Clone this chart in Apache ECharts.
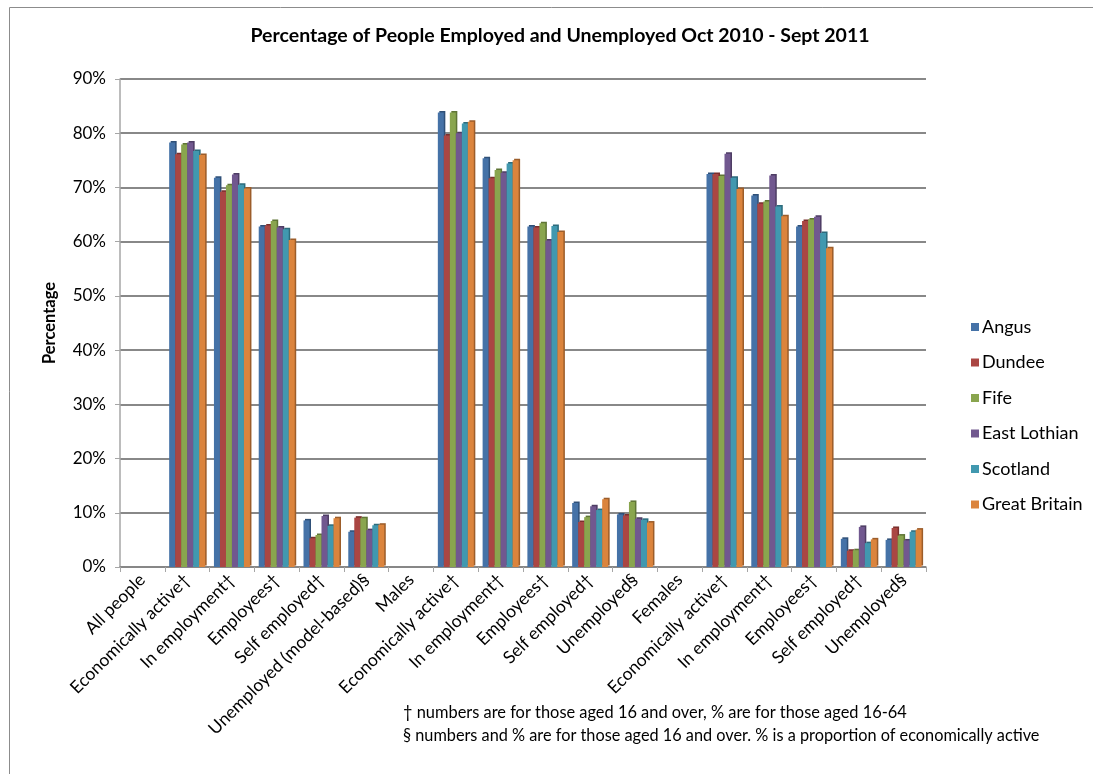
<!DOCTYPE html>
<html>
<head>
<meta charset="utf-8">
<script src="https://cdn.jsdelivr.net/npm/echarts@6/dist/echarts.min.js"></script>
<style>
html,body{margin:0;padding:0;background:#fff;}
#chart{width:1093px;height:774px;}
</style>
</head>
<body>
<div id="chart"></div>
<script>
const categories = ["All people","Economically active†","In employment†","Employees†","Self employed†","Unemployed (model-based)§","Males","Economically active†","In employment†","Employees†","Self employed†","Unemployed§","Females","Economically active†","In employment†","Employees†","Self employed†","Unemployed§"];
const seriesNames = ["Angus","Dundee","Fife","East Lothian","Scotland","Great Britain"];
const angus        = [0, 78.3, 71.8, 62.8, 8.6, 6.5, 0, 83.8, 75.4, 62.8, 11.8, 9.7, 0, 72.5, 68.5, 62.8, 5.2, 5.0];
const dundee       = [0, 76.1, 69.2, 63.0, 5.3, 9.1, 0, 79.6, 71.7, 62.6, 8.3, 9.5, 0, 72.5, 67.0, 63.8, 3.0, 7.2];
const fife         = [0, 77.9, 70.4, 63.8, 5.9, 9.0, 0, 83.8, 73.2, 63.4, 9.2, 12.0, 0, 72.1, 67.4, 64.1, 3.1, 5.8];
const eastLothian  = [0, 78.3, 72.4, 62.6, 9.4, 6.8, 0, 80.0, 72.7, 60.2, 11.2, 8.9, 0, 76.2, 72.2, 64.6, 7.4, 4.9];
const scotland     = [0, 76.7, 70.5, 62.3, 7.6, 7.7, 0, 81.8, 74.4, 62.9, 10.5, 8.7, 0, 71.8, 66.5, 61.6, 4.4, 6.5];
const greatBritain = [0, 76.0, 69.8, 60.3, 9.0, 7.8, 0, 82.1, 75.0, 61.8, 12.5, 8.2, 0, 69.7, 64.7, 58.8, 5.1, 6.9];
const yTicks = [0,10,20,30,40,50,60,70,80,90];
const footnotes = [
  "† numbers are for those aged 16 and over, % are for those aged 16-64",
  "§ numbers and % are for those aged 16 and over. % is a proportion of economically active"
];

const allData = [angus, dundee, fife, eastLothian, scotland, greatBritain];
const colors = ['#4572A7','#AA4643','#89A54E','#71588F','#4198AF','#DB843D'];
const darkColors = ['#2f5078','#7a2f2d','#5f7535','#4e3d64','#2c6b7c','#9c5d2a'];
const FONT = 'Lato, "Liberation Sans", sans-serif';

const chart = echarts.init(document.getElementById('chart'));
chart.setOption({
  animation: false,
  backgroundColor: '#fff',
  textStyle: { fontFamily: FONT },
  title: {
    text: 'Percentage of People Employed and Unemployed Oct 2010 - Sept 2011',
    left: 555, textAlign: 'center', top: 21,
    textStyle: { fontSize: 19.5, fontWeight: 'bold', color: '#000', fontFamily: FONT }
  },
  legend: {
    orient: 'vertical', left: 966, top: 313,
    itemWidth: 8, itemHeight: 8, itemGap: 17.5,
    icon: 'rect',
    textStyle: { fontSize: 18, color: '#000', lineHeight: 18, fontFamily: FONT, padding: [0,0,0,-2] },
    data: seriesNames
  },
  grid: { left: 120, right: 167, top: 79, bottom: 207, containLabel: false },
  xAxis: {
    type: 'category', data: categories,
    axisLine: { lineStyle: { color: '#868686', width: 1.5 } },
    axisTick: { show: true, length: 5, lineStyle: { color: '#a6a6a6' } },
    axisLabel: { rotate: 45, interval: 0, fontSize: 17.5, color: '#000', margin: 10, fontFamily: FONT }
  },
  yAxis: {
    type: 'value', min: 0, max: 90, interval: 10,
    name: 'Percentage', nameLocation: 'middle', nameGap: 62,
    nameTextStyle: { fontSize: 16.5, fontWeight: 'bold', color: '#000', fontFamily: FONT },
    axisLine: { show: true, lineStyle: { color: '#a6a6a6', width: 1.5 } },
    axisTick: { show: true, length: 5, lineStyle: { color: '#a6a6a6' } },
    axisLabel: { formatter: v => yTicks.includes(v) ? v + '%' : '', fontSize: 17, color: '#000', margin: 14, fontFamily: FONT },
    splitLine: { lineStyle: { color: '#888888', width: 2 } }
  },
  graphic: [
    { type: 'rect', left: 7, top: 5, shape: { width: 1200, height: 900 }, style: { fill: 'none', stroke: '#8c8c8c', lineWidth: 1 }, silent: true, z: -10 },
    { type: 'text', left: 403, top: 705, style: { text: footnotes[0], fontSize: 16.4, fill: '#000', fontFamily: FONT } },
    { type: 'text', left: 403, top: 728, style: { text: footnotes[1], fontSize: 16.3, fill: '#000', fontFamily: FONT } }
  ],
  series: seriesNames.map((n, i) => ({
    name: n, type: 'bar', data: allData[i],
    barWidth: 6, barGap: '0%',
    itemStyle: { color: colors[i], shadowColor: darkColors[i], shadowOffsetX: 1.5, shadowOffsetY: -1.5, shadowBlur: 0 }
  }))
});
</script>
</body>
</html>
